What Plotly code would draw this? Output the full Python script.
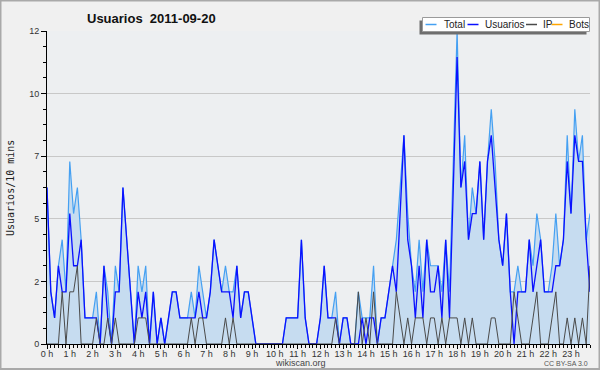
import plotly.graph_objects as go

# ---------------- data (10-minute slots, 2011-09-20) ----------------
slots = list(range(144))

hour_ticks = [0, 6, 12, 18, 24, 30, 36, 42, 48, 54, 60, 66, 72, 78, 84, 90,
              96, 102, 108, 114, 120, 126, 132, 138]
hour_labels = ["0 h", "1 h", "2 h", "3 h", "4 h", "5 h", "6 h", "7 h", "8 h",
               "9 h", "10 h", "11 h", "12 h", "13 h", "14 h", "15 h", "16 h",
               "17 h", "18 h", "19 h", "20 h", "21 h", "22 h", "23 h"]

y_tick_vals = [0, 2.4, 4.8, 7.2, 9.6, 12]
y_tick_labels = ["0", "2", "5", "7", "10", "12"]

total = [6, 2, 1, 3, 4, 2, 7, 5, 6, 4,
         1, 1, 1, 2, 0, 3, 2, 0, 3, 2,
         6, 4, 2, 0, 3, 2, 3, 0, 2, 0,
         1, 0, 1, 2, 2, 1, 1, 1, 2, 1,
         3, 2, 1, 2, 4, 3, 2, 3, 2, 2,
         3, 1, 2, 2, 1, 0, 0, 0, 0, 0,
         0, 0, 0, 1, 1, 1, 1, 4, 1, 0,
         0, 0, 1, 3, 1, 1, 2, 0, 1, 1,
         0, 0, 2, 1, 1, 1, 3, 0, 1, 1,
         2, 3, 4, 6, 8, 5, 3, 2, 4, 2,
         4, 3, 3, 3, 2, 4, 2, 7, 12, 6,
         8, 4, 6, 5, 7, 4, 7, 9, 7, 4,
         3, 5, 2, 2, 3, 2, 2, 4, 3, 5,
         4, 2, 2, 3, 5, 3, 4, 8, 5, 9,
         7, 8, 4, 5]

usuarios = [6, 2, 1, 3, 2, 2, 5, 3, 3, 4,
            1, 1, 1, 1, 0, 3, 1, 0, 2, 2,
            6, 4, 2, 0, 2, 1, 2, 0, 2, 0,
            1, 0, 1, 2, 2, 1, 1, 1, 1, 1,
            2, 1, 1, 2, 4, 3, 2, 2, 2, 1,
            3, 1, 2, 2, 1, 0, 0, 0, 0, 0,
            0, 0, 0, 1, 1, 1, 1, 4, 1, 0,
            0, 0, 1, 3, 1, 1, 1, 0, 1, 1,
            0, 0, 0, 1, 0, 1, 1, 0, 1, 1,
            2, 3, 2, 5, 8, 4, 3, 1, 3, 1,
            4, 2, 2, 3, 1, 4, 1, 6, 11, 6,
            7, 4, 5, 5, 7, 4, 7, 8, 6, 4,
            3, 5, 2, 0, 2, 2, 2, 4, 2, 3,
            4, 2, 2, 2, 3, 3, 4, 7, 5, 8,
            7, 7, 4, 2]

ip = [0, 0, 0, 0, 2, 0, 2, 2, 3, 0,
      0, 0, 0, 1, 0, 0, 1, 0, 1, 0,
      0, 0, 0, 0, 1, 1, 1, 0, 0, 0,
      0, 0, 0, 0, 0, 0, 0, 0, 1, 0,
      1, 1, 0, 0, 0, 0, 0, 1, 0, 1,
      0, 0, 0, 0, 0, 0, 0, 0, 0, 0,
      0, 0, 0, 0, 0, 0, 0, 0, 0, 0,
      0, 0, 0, 0, 0, 0, 1, 0, 0, 0,
      0, 0, 2, 0, 1, 0, 2, 0, 0, 0,
      0, 0, 2, 1, 0, 1, 0, 1, 1, 1,
      0, 1, 1, 0, 1, 0, 1, 1, 1, 0,
      1, 0, 1, 0, 0, 0, 0, 1, 1, 0,
      0, 0, 0, 2, 1, 0, 0, 0, 1, 2,
      0, 0, 0, 1, 2, 0, 0, 1, 0, 1,
      0, 1, 0, 3]

bots = [0, 0, 0, 0, 0, 0, 0, 0, 0, 0, 0, 0, 0, 0, 0, 0, 0, 0, 0, 0, 0, 0, 0, 0,
        0, 0, 0, 0, 0, 0, 0, 0, 0, 0, 0, 0, 0, 0, 0, 0, 0, 0, 0, 0, 0, 0, 0, 0,
        0, 0, 0, 0, 0, 0, 0, 0, 0, 0, 0, 0, 0, 0, 0, 0, 0, 0, 0, 0, 0, 0, 0, 0,
        0, 0, 0, 0, 0, 0, 0, 0, 0, 0, 0, 0, 0, 0, 0, 0, 0, 0, 0, 0, 0, 0, 0, 0,
        0, 0, 0, 0, 0, 0, 0, 0, 0, 0, 0, 0, 0, 0, 0, 0, 0, 0, 0, 0, 0, 0, 0, 0,
        0, 0, 0, 0, 0, 0, 0, 0, 0, 0, 0, 0, 0, 0, 0, 0, 0, 0, 0, 0, 0, 0, 0, 0]

series_names = ["Total", "Usuarios", "IP", "Bots"]
series_colors = ["#45a0f2", "#0a10ff", "#4a4a4a", "#ffa500"]

# ---------------- layout geometry ----------------
W, H = 600, 370
ML, MR, MT, MB = 47, 10, 31, 26
PW, PH = W - ML - MR, H - MT - MB


def px(x):
    return (x - ML) / PW


def py(y):
    return (H - MB - y) / PH


FONT = "Liberation Sans, Arial, sans-serif"

fig = go.Figure()

fig.add_trace(go.Scatter(x=slots, y=bots, mode="lines", name="Bots",
                         line=dict(color=series_colors[3], width=1.2)))
fig.add_trace(go.Scatter(x=slots, y=total, mode="lines", name="Total",
                         fill="tozeroy", fillcolor="#c6dcf0",
                         line=dict(color=series_colors[0], width=1.2)))
fig.add_trace(go.Scatter(x=slots, y=usuarios, mode="lines", name="Usuarios",
                         line=dict(color=series_colors[1], width=1.3)))
fig.add_trace(go.Scatter(x=slots, y=ip, mode="lines", name="IP",
                         line=dict(color=series_colors[2], width=1.0)))

fig.update_layout(
    width=W, height=H, autosize=False,
    margin=dict(l=ML, r=MR, t=MT, b=MB, pad=0),
    paper_bgcolor="#f0f0f0",
    plot_bgcolor="#edeff1",
    showlegend=False,
    font=dict(family=FONT, size=9, color="#333333"),
    xaxis=dict(
        range=[0, 143], tickmode="array", tickvals=hour_ticks, ticktext=hour_labels,
        ticks="outside", ticklen=4, tickwidth=1, tickcolor="#000000",
        ticklabelstandoff=-3,
        showline=True, linecolor="#000000", linewidth=1,
        showgrid=False, zeroline=False,
        tickfont=dict(family=FONT, size=9, color="#333333"),
        minor=dict(tickmode="linear", tick0=0, dtick=1, ticks="outside",
                   ticklen=3, tickcolor="#000000", showgrid=False),
    ),
    yaxis=dict(
        range=[0, 12], tickmode="array", tickvals=y_tick_vals, ticktext=y_tick_labels,
        ticks="outside", ticklen=5, tickwidth=1, tickcolor="#000000",
        showline=True, linecolor="#000000", linewidth=1,
        showgrid=True, gridcolor="#c8c8c8", gridwidth=1, zeroline=False,
        tickfont=dict(family=FONT, size=9, color="#333333"),
        minor=dict(tickmode="linear", tick0=0, dtick=0.6, ticks="outside",
                   ticklen=3, tickcolor="#000000", showgrid=False),
    ),
)

shapes = []
annotations = []

# outer border of the picture
shapes.append(dict(type="rect", xref="paper", yref="paper",
                   x0=px(0.5), x1=px(599.5), y0=py(369), y1=py(0.5),
                   line=dict(color="#a9a9a9", width=2), fillcolor="rgba(0,0,0,0)",
                   layer="above"))

# legend box with shadow
lx0, lx1, ly0, ly1 = 422.5, 589.5, 17.5, 31.5
shapes.append(dict(type="rect", xref="paper", yref="paper",
                   x0=px(lx0 - 3), x1=px(lx1 - 3), y0=py(ly1 + 3), y1=py(ly0 + 3),
                   line=dict(width=0), fillcolor="#6e6e6e", layer="above"))
shapes.append(dict(type="rect", xref="paper", yref="paper",
                   x0=px(lx0), x1=px(lx1), y0=py(ly1), y1=py(ly0),
                   line=dict(color="#9a9a9a", width=1), fillcolor="#ffffff", layer="above"))

legend_line_x = [(425.5, 436.5), (467.5, 478.5), (526.0, 537.0), (551.5, 562.5)]
legend_text_x = [442.0, 483.0, 541.0, 566.5]
legend_y = 24.5
for (a, b), tx, name, col in zip(legend_line_x, legend_text_x, series_names, series_colors):
    shapes.append(dict(type="line", xref="paper", yref="paper",
                       x0=px(a), x1=px(b), y0=py(legend_y), y1=py(legend_y),
                       line=dict(color=col, width=1.5), layer="above"))
    annotations.append(dict(text=name, xref="paper", yref="paper",
                            x=px(tx), y=py(legend_y), xanchor="left", yanchor="middle",
                            showarrow=False, font=dict(family=FONT, size=10, color="#222222")))

# title
annotations.append(dict(text="<b>Usuarios  2011-09-20</b>", xref="paper", yref="paper",
                        x=px(151), y=py(18), xanchor="center", yanchor="middle",
                        showarrow=False, font=dict(family=FONT, size=13, color="#111111")))
# y axis title
annotations.append(dict(text="Usuarios/10 mins", xref="paper", yref="paper",
                        x=px(10), y=py(188), xanchor="center", yanchor="middle",
                        textangle=-90, showarrow=False,
                        font=dict(family="DejaVu Sans Mono, monospace", size=10, color="#222222")))
# footer texts
annotations.append(dict(text="wikiscan.org", xref="paper", yref="paper",
                        x=px(300), y=py(362.5), xanchor="center", yanchor="middle",
                        showarrow=False, font=dict(family=FONT, size=9, color="#444444")))
annotations.append(dict(text="CC BY-SA 3.0", xref="paper", yref="paper",
                        x=px(590), y=py(363.5), xanchor="right", yanchor="middle",
                        showarrow=False, font=dict(family=FONT, size=7, color="#555555")))

fig.update_layout(shapes=shapes, annotations=annotations)

fig.write_html("out.html",
               config={"displayModeBar": False, "staticPlot": True},
               post_script="document.body.style.margin='0px';document.body.style.padding='0px';")
